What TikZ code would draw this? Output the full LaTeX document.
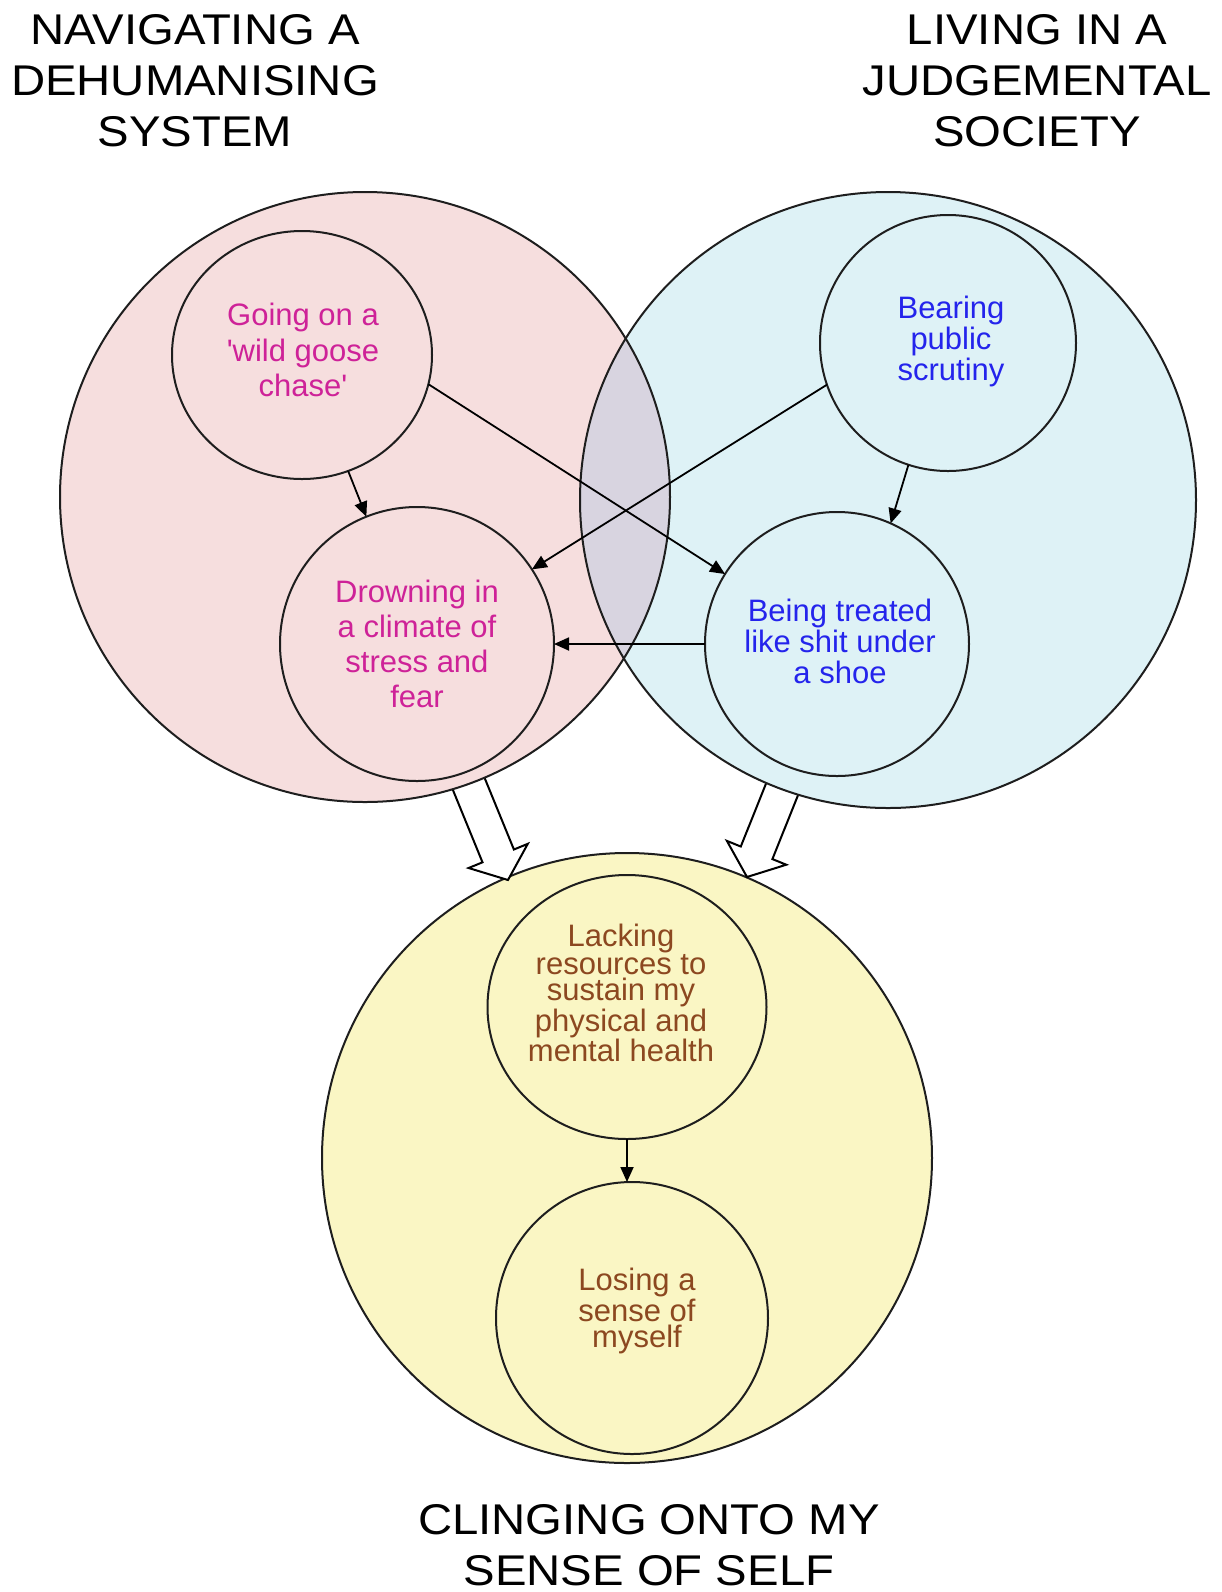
\documentclass[tikz,border=0pt]{standalone}
\usepackage{fontspec}
\setmainfont{Liberation Sans}
\newfontfamily\titlefont[FakeStretch=1.1]{Liberation Sans}
\usetikzlibrary{shapes.geometric,arrows.meta}
\definecolor{pinkfill}{RGB}{246,222,222}
\definecolor{bluefill}{RGB}{222,242,246}
\definecolor{lensfill}{RGB}{216,212,224}
\definecolor{yellowfill}{RGB}{250,246,196}
\definecolor{pinktext}{RGB}{206,34,152}
\definecolor{bluetext}{RGB}{36,36,236}
\definecolor{browntext}{RGB}{140,72,32}
\definecolor{outline}{RGB}{30,30,30}
\begin{document}
\begin{tikzpicture}[x=0.5pt,y=-0.5pt,
  outl/.style={draw=outline,line width=1pt},
  bigc/.style={circle,inner sep=0pt,outer sep=0pt,outl},
  smallc/.style={circle,inner sep=0pt,outer sep=0pt,outl},
  smalle/.style={ellipse,inner sep=0pt,outer sep=0pt,outl},
  conn/.style={draw=black,line width=0.9pt,-{Triangle[length=7.5pt,width=6.5pt]}},
  blockarrow/.style={draw=black,line width=1pt,fill=white,line join=miter},
  titletext/.style={font=\titlefont\fontsize{21.5}{25.5}\selectfont,align=center,text=black,inner sep=0pt},
  ptext/.style={font=\fontsize{15.5}{17.6}\selectfont,align=center,text=pinktext,inner sep=0pt},
  btext/.style={font=\fontsize{15.5}{15.5}\selectfont,align=center,text=bluetext,inner sep=0pt},
  ytext/.style={font=\fontsize{15.5}{12.7}\selectfont,align=center,text=browntext,inner sep=0pt}
]
\useasboundingbox (0,0) rectangle (1222,1592);
\fill[white] (0,0) rectangle (1222,1592);

% bottom big circle
\node[bigc,fill=yellowfill,minimum size=305pt] (yellow) at (627,1158) {};

% block arrows
\draw[blockarrow] (508,880) -- (468.6,868.0) -- (482.5,862.3) -- (448.8,779.9)
  -- (480.2,767.1) -- (513.9,849.5) -- (527.8,843.8) -- cycle;
\draw[blockarrow] (747,877) -- (726.9,840.9) -- (740.8,846.5) -- (773.9,763.9)
  -- (805.5,776.5) -- (772.4,859.1) -- (786.3,864.7) -- cycle;

% top big circles
\fill[pinkfill] (365,497) circle[radius=152.5pt];
\fill[bluefill] (888,500) circle[radius=154pt];
\begin{scope}
  \clip (365,497) circle[radius=152.5pt];
  \fill[lensfill] (888,500) circle[radius=154pt];
\end{scope}
\node[bigc,minimum size=305pt] (pink) at (365,497) {};
\node[bigc,minimum size=308pt] (blue) at (888,500) {};

% small circles
\node[smalle,minimum width=130pt,minimum height=124pt] (going) at (302,355) {};
\node[smallc,minimum size=137pt] (drowning) at (417,644) {};
\node[smallc,minimum size=128pt] (bearing) at (948,343) {};
\node[smallc,minimum size=132pt] (being) at (837,644) {};
\node[smalle,minimum width=139.5pt,minimum height=132pt] (lacking) at (627,1007) {};
\node[smallc,minimum size=136pt] (losing) at (632,1318) {};

% texts
\node[titletext] (t1) at (195,81) {NAVIGATING A\\DEHUMANISING\\SYSTEM};
\node[titletext] (t2) at (1037,81) {LIVING IN A\\JUDGEMENTAL\\SOCIETY};
\node[titletext] (t3) at (649,1545) {CLINGING ONTO MY\\SENSE OF SELF};

\node[ptext] (goingt) at (303,350) {Going on a\\\textquotesingle wild goose\\chase\textquotesingle};
\node[ptext] (drowningt) at (417,644) {Drowning in\\a climate of\\stress and\\fear};
\node[btext] (bearingt) at (951,341) {Bearing\\public\\scrutiny};
\node[btext] (beingt) at (840,641) {Being treated\\like shit under\\a shoe};
\node[ytext] (lackingt) at (621,993) {Lacking\\resources to\\sustain my\\physical and\\mental health};
\node[ytext] (losingt) at (637,1311) {Losing a\\sense of\\myself};

% connectors
\draw[conn] (going) -- (drowning);
\draw[conn] (going.-13) -- (being.148);
\draw[conn] (bearing.199) -- (drowning.33);
\draw[conn] (bearing.-108) -- (being.66);
\draw[conn] (being.180) -- (drowning.0);
\draw[conn] (lacking.-90) -- (lacking.-90 |- losing.north);
\end{tikzpicture}
\end{document}
